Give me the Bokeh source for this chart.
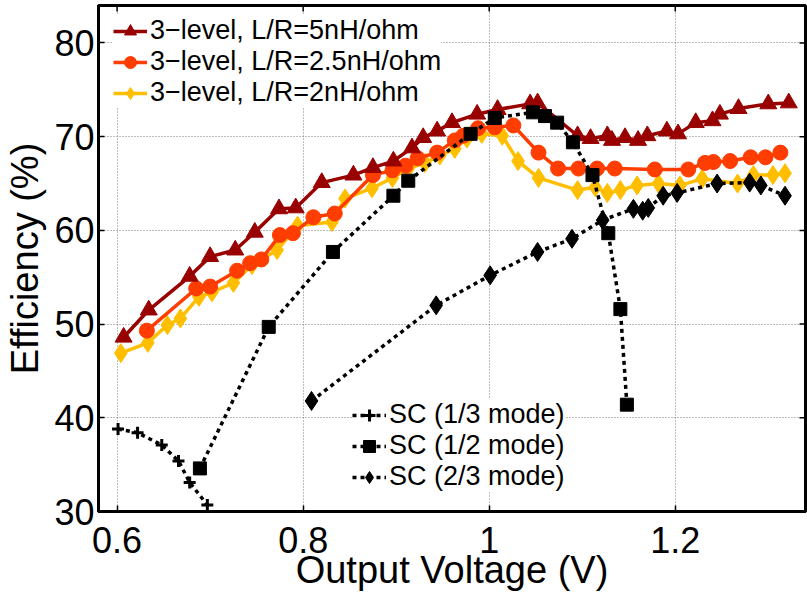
from bokeh.plotting import figure
from bokeh.models import (Legend, LegendItem, FixedTicker, Range1d,
                          CustomJSTickFormatter)
from bokeh.embed import file_html
from bokeh.resources import INLINE

FONT = "Liberation Sans"

# 3-level converter, L/R = 5 nH/ohm
v_5nh = [0.607, 0.634, 0.678, 0.700, 0.727, 0.748, 0.774, 0.792, 0.820, 0.854,
         0.875, 0.897, 0.917, 0.929, 0.944, 0.960, 0.987, 1.009, 1.044, 1.052,
         1.095, 1.109, 1.127, 1.132, 1.146, 1.160, 1.170, 1.191, 1.203, 1.222,
         1.240, 1.248, 1.268, 1.300, 1.322]
eff_5nh = [48.6, 51.5, 55.1, 57.2, 57.9, 59.8, 62.3, 62.4, 65.1, 65.9,
           66.7, 67.4, 68.8, 69.9, 70.6, 71.5, 72.4, 72.9, 73.5, 73.6,
           70.1, 69.8, 70.1, 69.6, 69.9, 69.6, 70.1, 70.6, 70.3, 71.5,
           71.7, 72.4, 73.0, 73.5, 73.6]

# 3-level converter, L/R = 2.5 nH/ohm
v_25nh = [0.632, 0.685, 0.700, 0.729, 0.743, 0.755, 0.775, 0.789, 0.811, 0.834,
          0.875, 0.896, 0.910, 0.923, 0.944, 0.963, 0.972, 0.988, 1.006, 1.026,
          1.053, 1.074, 1.096, 1.116, 1.135, 1.178, 1.214, 1.232, 1.241, 1.259,
          1.281, 1.297, 1.313]
eff_25nh = [49.3, 53.8, 54.0, 55.7, 56.5, 56.9, 59.5, 59.7, 61.4, 61.8,
            65.9, 66.4, 66.9, 67.7, 68.3, 69.6, 70.1, 70.9, 71.0, 71.2,
            68.3, 66.6, 66.6, 66.6, 66.6, 66.5, 66.5, 67.2, 67.3, 67.4,
            67.8, 67.8, 68.3]

# 3-level converter, L/R = 2 nH/ohm
v_2nh = [0.604, 0.633, 0.654, 0.668, 0.688, 0.702, 0.725, 0.745, 0.772, 0.794,
         0.831, 0.845, 0.874, 0.896, 0.913, 0.931, 0.947, 0.963, 0.976, 0.992,
         1.014, 1.031, 1.053, 1.095, 1.114, 1.127, 1.141, 1.159, 1.182, 1.205,
         1.229, 1.267, 1.284, 1.305, 1.318]
eff_2nh = [46.9, 48.0, 49.9, 50.6, 52.9, 53.4, 54.4, 56.3, 57.9, 60.5,
           60.9, 63.4, 64.5, 65.6, 66.6, 67.2, 68.0, 68.7, 69.8, 70.3,
           70.1, 67.4, 65.6, 64.3, 64.6, 64.0, 64.3, 64.8, 65.0, 64.8,
           65.5, 65.0, 65.9, 65.9, 66.1]

# Switched-capacitor converter, 1/3 mode
v_sc13 = [0.601, 0.622, 0.648, 0.666, 0.678, 0.697]
eff_sc13 = [38.8, 38.4, 37.1, 35.4, 33.1, 30.7]

# Switched-capacitor converter, 1/2 mode
v_sc12 = [0.689, 0.763, 0.832, 0.897, 0.913, 0.980, 1.006, 1.047, 1.060, 1.073,
          1.090, 1.111, 1.128, 1.141, 1.148]
eff_sc12 = [34.6, 49.7, 57.7, 63.7, 65.3, 70.3, 72.0, 72.6, 72.2, 71.5,
            69.4, 65.9, 59.7, 51.6, 41.4]

# Switched-capacitor converter, 2/3 mode
v_sc23 = [0.809, 0.943, 1.001, 1.052, 1.089, 1.122, 1.155, 1.165, 1.171, 1.187,
          1.202, 1.245, 1.280, 1.292, 1.318]
eff_sc23 = [41.8, 52.0, 55.2, 57.7, 59.1, 61.1, 62.3, 62.1, 62.4, 63.7,
            64.0, 65.0, 65.1, 64.8, 63.7]

x_ticks = [0.6, 0.8, 1.0, 1.2]
y_ticks = [30, 40, 50, 60, 70, 80]

labels_3level = ["3\u2212level, L/R=5nH/ohm",
                 "3\u2212level, L/R=2.5nH/ohm",
                 "3\u2212level, L/R=2nH/ohm"]
labels_sc = ["SC (1/3 mode)", "SC (1/2 mode)", "SC (2/3 mode)"]

C_5 = "#990000"
C_25 = "#ff3d00"
C_2 = "#ffbf00"

X_LO, X_HI = 0.58, 1.34
Y_LO, Y_HI = 30, 84

p = figure(width=807, height=594, output_backend="svg", toolbar_location=None,
           x_range=Range1d(X_LO, X_HI), y_range=Range1d(Y_LO, Y_HI),
           min_border_left=98, min_border_right=2, min_border_top=5,
           min_border_bottom=83)
p.background_fill_color = "white"
p.border_fill_color = "white"
p.outline_line_color = "black"
p.outline_line_width = 3
p.outline_line_alpha = 1

# axes
p.xaxis.ticker = FixedTicker(ticks=x_ticks)
p.yaxis.ticker = FixedTicker(ticks=y_ticks)
p.xaxis.formatter = CustomJSTickFormatter(code="return (Math.round(tick*10)/10).toString();")
p.xaxis.axis_label = "Output Voltage (V)"
p.yaxis.axis_label = "Efficiency (%)"
for ax in (p.xaxis[0], p.yaxis[0]):
    ax.axis_line_color = "black"
    ax.axis_line_width = 3
    ax.major_tick_in = 6
    ax.major_tick_out = 0
    ax.major_tick_line_width = 1.5
    ax.minor_tick_line_color = None
    ax.major_label_text_font = FONT
    ax.major_label_text_font_size = "36px"
    ax.major_label_text_color = "black"
    ax.axis_label_text_font = FONT
    ax.axis_label_text_font_size = "38px"
    ax.axis_label_text_font_style = "normal"
    ax.axis_label_text_color = "black"
p.xaxis.major_label_standoff = 15
p.xaxis.axis_label_standoff = -7
p.yaxis.major_label_standoff = 4
p.yaxis.axis_label_standoff = 5

# inward tick marks along the top and right edges of the box
tick_dx = 6 * (X_HI - X_LO) / 707
tick_dy = 6 * (Y_HI - Y_LO) / 506
p.segment(x0=x_ticks, y0=[Y_HI] * len(x_ticks), x1=x_ticks,
          y1=[Y_HI - tick_dy] * len(x_ticks), line_color="black", line_width=1.5)
p.segment(x0=[X_HI] * len(y_ticks), y0=y_ticks, x1=[X_HI - tick_dx] * len(y_ticks),
          y1=y_ticks, line_color="black", line_width=1.5)

# grid
for g, tk in ((p.xgrid[0], x_ticks), (p.ygrid[0], y_ticks)):
    g.ticker = FixedTicker(ticks=tk)
    g.grid_line_color = "#7a7a7a"
    g.grid_line_dash = "1 2"
    g.grid_line_width = 1

# 3-level series
l2 = p.line(v_2nh, eff_2nh, line_color=C_2, line_width=3.5)
m2 = p.scatter(v_2nh, eff_2nh, marker="diamond", size=19, fill_color=C_2, line_color=C_2)
l25 = p.line(v_25nh, eff_25nh, line_color=C_25, line_width=3.5)
m25 = p.scatter(v_25nh, eff_25nh, marker="circle", size=15, fill_color=C_25, line_color=C_25)
l5 = p.line(v_5nh, eff_5nh, line_color=C_5, line_width=3.5)
m5 = p.scatter(v_5nh, eff_5nh, marker="triangle", size=17, fill_color=C_5, line_color=C_5)

# SC series
lq = p.line(v_sc13, eff_sc13, line_color="black", line_width=3.5, line_dash="4 4")
mq = p.scatter(v_sc13, eff_sc13, marker="cross", size=12, line_color="black", line_width=3)
lh = p.line(v_sc12, eff_sc12, line_color="black", line_width=3.5, line_dash="4 4")
mh = p.scatter(v_sc12, eff_sc12, marker="square", size=13, fill_color="black", line_color="black")
lt = p.line(v_sc23, eff_sc23, line_color="black", line_width=3.5, line_dash="4 4")
mt = p.scatter(v_sc23, eff_sc23, marker="diamond", size=19, fill_color="black", line_color="black")


def make_legend(items, loc):
    lg = Legend(items=items, location=loc, orientation="vertical")
    lg.label_text_font = FONT
    lg.label_text_font_size = "27px"
    lg.label_text_color = "black"
    lg.label_standoff = 3
    lg.glyph_width = 34
    lg.glyph_height = 30
    lg.label_height = 30
    lg.spacing = -1
    lg.padding = 6
    lg.margin = 0
    lg.border_line_color = None
    lg.background_fill_color = "white"
    lg.background_fill_alpha = 1
    return lg


leg1 = make_legend([
    LegendItem(label=labels_3level[0], renderers=[l5, m5]),
    LegendItem(label=labels_3level[1], renderers=[l25, m25]),
    LegendItem(label=labels_3level[2], renderers=[l2, m2]),
], (15, 403))
leg2 = make_legend([
    LegendItem(label=labels_sc[0], renderers=[lq, mq]),
    LegendItem(label=labels_sc[1], renderers=[lh, mh]),
    LegendItem(label=labels_sc[2], renderers=[lt, mt]),
], (254, 19))
p.add_layout(leg1, "center")
p.add_layout(leg2, "center")

open("out.html", "w").write(file_html(p, INLINE))
